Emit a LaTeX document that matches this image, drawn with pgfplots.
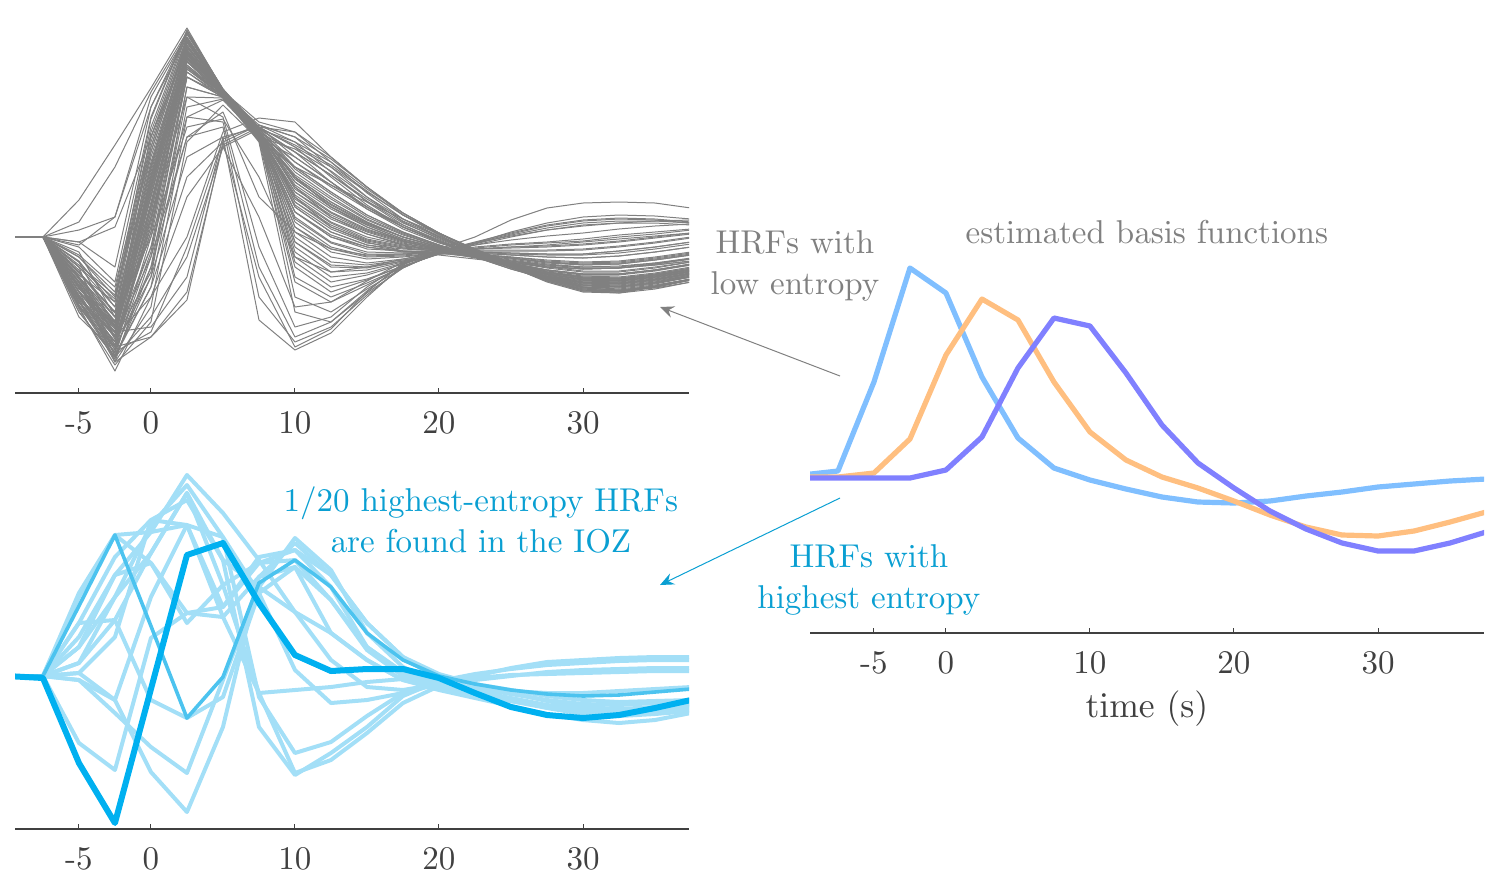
\documentclass[border=0pt]{standalone}
\usepackage{pgfplots}
\usepackage{pgfplotstable}
\pgfplotsset{compat=1.18}
\usetikzlibrary{arrows.meta}

\definecolor{hrfgray}{HTML}{808080}
\definecolor{ticktext}{HTML}{404040}
\definecolor{lightcyan}{HTML}{A3DFF7}
\definecolor{midcyan}{HTML}{4CC3EF}
\definecolor{thickcyan}{HTML}{00B0F0}
\definecolor{txtblue}{HTML}{0A9FD2}
\definecolor{basisA}{HTML}{80BFFF}
\definecolor{basisB}{HTML}{FFBF80}
\definecolor{basisC}{HTML}{8080FF}

% design size 10 scaled up, as in the reference
\font\hrf=cmr10 at 16.5pt
\font\hrfL=cmr10 at 17.8pt
\newcommand{\hrffont}{\fontsize{16.5}{20.5}\selectfont\hrf}

% one row per curve, transposed below (values in px above the baseline)
\pgfplotstableread{
id  c1  c2   c3   c4   c5   c6   c7   c8   c9   c10  c11  c12  c13  c14  c15  c16  c17  c18  c19  c20
x   -10 -7.5 -5   -2.5 0    2.5  5    7.5  10   12.5 15   17.5 20   22.5 25   27.5 30   32.5 35   37.5
g1  0   0    -20  -60  100  200  147  110  80   55   30   10   -5   -20  -32  -42  -50  -52  -48  -42
g2  0   0    -35  -75  80   190  145  108  70   45   22   5    -8   -20  -32  -42  -48  -50  -46  -40
g3  0   0    -50  -90  60   185  143  106  60   35   15   0    -10  -20  -30  -40  -46  -47  -43  -37
g4  0   0    -60  -100 40   178  142  104  50   25   8    -4   -12  -20  -29  -37  -42  -43  -39  -33
g5  0   0    -70  -110 20   170  140  102  40   15   0    -8   -13  -20  -27  -34  -38  -38  -34  -28
g6  0   0    -45  -85  70   195  146  105  30   5    -8   -12  -14  -18  -24  -30  -34  -34  -30  -25
g7  0   0    -55  -95  50   188  144  103  20   -5   -15  -16  -15  -18  -22  -27  -30  -30  -26  -21
g8  0   0    -65  -105 30   180  143  100  10   -15  -22  -20  -16  -17  -20  -24  -26  -25  -21  -16
g9  0   0    -30  -70  90   198  146  107  0    -25  -28  -23  -17  -16  -18  -20  -21  -19  -15  -10
g10 0   0    -40  -80  65   190  145  104  -10  -35  -33  -25  -17  -15  -16  -17  -17  -14  -10  -5
g11 0   0    -75  -120 0    160  140  100  -20  -45  -38  -27  -17  -13  -13  -13  -12  -9   -5   0
g12 0   0    -50  -95  45   182  143  98   -30  -55  -43  -29  -17  -12  -10  -9   -7   -4   0    4
g13 0   0    -60  -100 35   175  142  96   -45  -65  -48  -30  -16  -10  -7   -5   -2   2    5    8
g14 0   0    -20  -55  110  205  148  102  -60  -75  -52  -31  -15  -8   -3   1    4    8    11   13
g15 0   0    -45  -90  55   185  140  95   -75  -85  -56  -31  -14  -6   1    7    11   14   16   17
g16 0   0    -35  -75  75   192  142  97   70   52   35   18   3    -12  -26  -40  -50  -54  -51  -45
g17 0   0    -55  -95  48   182  145  110  90   70   45   22   4    -12  -28  -42  -53  -56  -52  -45
g18 0   0    -65  -110 25   172  140  108  95   75   48   24   4    -14  -30  -45  -55  -56  -50  -42
g19 0   0    -25  -65  95   196  144  112  100  78   50   24   4    -14  -30  -44  -54  -55  -50  -43
g20 0   0    -40  -85  60   186  146  115  105  80   50   22   2    -15  -30  -44  -53  -54  -49  -42
g21 0   0    -50  -90  55   183  143  104  55   30   12   -2   -11  -19  -28  -37  -43  -44  -40  -34
g22 0   0    -60  -98  42   179  142  103  45   22   6    -5   -12  -19  -27  -35  -40  -41  -37  -31
g23 0   0    -35  -80  72   192  145  106  65   40   18   3    -9   -19  -30  -40  -47  -48  -44  -38
g24 0   0    -48  -92  58   184  144  105  35   12   -3   -10  -13  -19  -26  -33  -37  -37  -33  -27
g25 0   0    -70  -115 15   168  141  101  25   0    -12  -14  -14  -18  -23  -28  -31  -31  -27  -22
g26 0   0    -10  -45  120  207  148  108  75   50   28   10   -4   -18  -31  -42  -49  -50  -46  -40
g27 0   0    -5   -30  130  205  147  109  85   62   38   16   0    -15  -30  -42  -51  -53  -49  -42
g28 0   0    -58  -105 30   176  141  103  15   -10  -19  -18  -15  -17  -21  -25  -28  -27  -23  -18
g29 0   0    -42  -88  62   187  144  102  -5   -30  -31  -24  -16  -15  -17  -18  -18  -16  -12  -7
g30 0   0    -68  -112 18   165  139  99   -15  -40  -36  -26  -17  -14  -14  -14  -13  -10  -6   -1
g31 0   0    37   92   149  209  147  105  40   10   -5   -14  -18  -22  -26  -30  -32  -31  -28  -24
g32 0   0    7    20   130  200  146  104  30   5    -8   -14  -16  -20  -24  -28  -30  -29  -26  -22
g33 0   0    -5   10   100  190  145  100  25   0    -10  -15  -16  -20  -25  -30  -32  -31  -28  -24
g34 0   0    -60  -110 -100 -63  95   112  100  70   40   15   -2   -15  -27  -38  -45  -46  -42  -36
g35 0   0    -50  -95  -90  -40  100  110  90   60   32   10   -5   -17  -28  -37  -43  -44  -40  -34
g36 0   0    -75  -120 -80  -20  90   108  85   55   28   8    -6   -16  -26  -35  -41  -42  -38  -33
g37 0   0    -40  -100 -60  0    105  119  115  80   50   24   4    -14  -30  -44  -54  -55  -50  -43
g38 0   0    -60  -110 -40  80   100  -83  -113 -96  -60  -28  -12  0    17   29   34   35   34   29
g39 0   0    -50  -100 -20  100  110  -60  -105 -90  -58  -30  -16  -6   5    14   20   22   21   18
g40 0   0    -65  -120 -50  60   95   -40  -110 -92  -55  -26  -14  -5   4    12   17   19   18   15
g41 0   0    -45  -90  20   140  120  -10  -90  -80  -50  -27  -15  -7   2    9    14   16   16   14
g42 0   0    -70  -134 -60  40   90   20   -70  -65  -44  -25  -15  -8   0    7    12   14   14   12
g43 0   0    -30  -120 -40  150  140  100  60   35   15   0    -10  -20  -30  -40  -46  -47  -43  -37
g44 0   0    -40  -125 -20  160  142  102  45   20   5    -6   -13  -20  -28  -36  -41  -42  -38  -32
g45 0   0    -55  -118 -50  130  138  101  70   45   22   5    -8   -19  -30  -41  -48  -49  -45  -39
g46 0   0    -25  -90  10   170  143  104  55   30   12   -2   -11  -19  -28  -37  -43  -44  -40  -34
g47 0   0    -15  -80  30   180  145  106  35   10   -4   -11  -14  -19  -26  -33  -37  -37  -33  -27
g48 0   0    -62  -125 -70  120  137  99   80   55   30   10   -5   -18  -30  -42  -50  -51  -47  -40
g49 0   0    -48  -108 -10  165  141  103  25   2    -10  -14  -15  -19  -24  -29  -32  -31  -27  -22
g50 0   0    -33  -100 5    172  143  105  85   62   36   14   -1   -15  -29  -42  -51  -53  -49  -42
g51 0   0    -58  -113 -30  150  140  102  10   -12  -20  -19  -16  -17  -20  -23  -25  -24  -20  -15
g52 0   0    -44  -96  25   176  144  104  62   38   17   2    -9   -19  -29  -39  -45  -46  -42  -36
g53 0   0    -52  -86  85   196  146  106  48   24   7    -4   -12  -19  -27  -35  -40  -41  -37  -31
g54 0   0    -66  -95  105  203  147  107  58   33   14   0    -10  -19  -29  -38  -44  -45  -41  -35
g55 0   0    -38  -65  118  206  148  108  68   43   20   4    -8   -18  -29  -39  -46  -47  -43  -37
g56 0   0    -28  -58  90   197  146  105  38   14   -2   -9   -13  -19  -26  -33  -37  -37  -33  -27
g57 0   0    -72  -128 -85  95   132  97   5    -20  -26  -22  -16  -16  -18  -20  -21  -19  -15  -10
g58 0   0    -46  -102 -35  140  139  101  -5   -28  -30  -24  -16  -15  -16  -17  -17  -14  -10  -5
g59 0   0    -36  -76  40   182  144  103  -25  -50  -42  -29  -17  -12  -11  -10  -8   -5   -1   3
g60 0   0    -62  -104 5    168  141  100  88   66   40   18   1    -14  -29  -43  -52  -54  -50  -43
g61 0   0    -24  -70  68   190  145  109  92   72   46   22   3    -13  -29  -43  -52  -54  -50  -43
g62 0   0    -54  -92  32   178  142  104  75   52   30   12   -3   -16  -29  -41  -48  -50  -46  -39
g63 0   0    -41  -84  48   184  143  105  52   28   10   -3   -11  -19  -28  -37  -42  -43  -39  -33
g64 0   0    -18  -50  100  199  146  106  58   32   13   0    -10  -20  -30  -39  -45  -46  -42  -36
g65 0   0    -60  -108 10   170  141  102  32   8    -6   -11  -14  -19  -25  -31  -35  -35  -31  -25
g66 0   0    -50  -88  52   186  144  104  42   18   3    -7   -12  -19  -27  -35  -39  -40  -36  -30
g67 0   0    -64  -116 -15  160  140  101  18   -6   -17  -17  -15  -17  -21  -26  -28  -27  -23  -18
g68 0   0    -30  -62  85   194  145  103  -40  -60  -46  -30  -16  -11  -8   -6   -4   0    3    7
g69 0   0    -8   20   140  203  147  105  60   30   10   -4   -12  -20  -28  -36  -41  -42  -38  -32
g70 0   0    15   70   145  205  146  104  50   20   3    -8   -14  -21  -27  -33  -37  -37  -33  -28
g71 0   0    -80  -115 -95  -10  98   112  95   65   35   12   -4   -16  -27  -37  -43  -44  -40  -35
g72 0   0    -45  -125 -100 -55  92   110  105  75   44   18   0    -14  -28  -40  -48  -49  -45  -38
g73 0   0    -55  -100 -10  120  115  -30  -100 -85  -54  -27  -14  -6   3    11   16   18   17   14
g74 0   0    -40  -80  0    110  118  60   -20  -35  -30  -22  -15  -12  -10  -8   -5   -2   1    4
g75 0   0    -68  -122 -30  100  125  40   5    -12  -18  -17  -15  -17  -21  -25  -27  -26  -22  -17
}\grayraw
\pgfplotstabletranspose[colnames from=id]\grayT\grayraw

\pgfplotstableread{
id    c1  c2   c3   c4   c5   c6   c7   c8   c9   c10  c11  c12  c13  c14  c15  c16  c17  c18  c19  c20
x     -10 -7.5 -5   -2.5 0    2.5  5    7.5  10   12.5 15   17.5 20   22.5 25   27.5 30   32.5 35   37.5
l1    0   0    83   141  113  63   59   99   109  76   29   4    -6   -12  -18  -24  -28  -29  -27  -24
l2    0   0    53   119  156  151  69   113  126  101  53   19   2    -8   -17  -25  -31  -33  -31  -28
l3    0   0    39   101  144  201  163  116  64   16   -11  -14  -8   -4   0    4    6    7    8    8
l4    0   0    29   79   151  191  139  83   6    -27  -24  -17  -8   -12  -15  -17  -17  -15  -13  -11
l5    0   0    13   56   123  183  91   -17  -97  -84  -57  -27  -10  0    8    14   16   18   19   19
l6    0   0    3    39   156  176  116  -51  -99  -77  -51  -20  -5   2    7    11   13   15   16   16
l7    0   0    -4   -24  79   151  139  -21  -77  -66  -40  -17  -5   -2   1    2    3    4    5    5
l8    0   0    -4   -37  -71  -97  -4   89   138  106  43   9    -8   -17  -24  -30  -34  -35  -33  -30
l9    0   0    3    -24  -96  -136 -51  99   133  101  53   19   -4   -15  -22  -29  -33  -34  -32  -29
l10   0   0    -67  -94  38   63   69   119  126  89   29   3    -11  -18  -25  -31  -35  -36  -34  -31
l11   0   0    29   101  113  53   91   113  116  76   26   0    -10  -17  -24  -31  -36  -38  -37  -34
l12   0   0    79   141  144  151  59   -17  -14  -11  -6   -3   -2   -8   -14  -20  -24  -26  -25  -24
l13   0   0    53   56   -24  -42  -21  83   109  43   16   -4   -12  -18  -25  -32  -38  -40  -38  -35
l14   0   0    13   79   123  183  116  89   64   43   16   -4   -14  -22  -30  -38  -44  -47  -44  -37
med   0   0    70   141  50   -42  -1   93   116  89   43   16   0    -8   -14  -18  -20  -19  -16  -13
thick 0   -2   -87  -147 -13  121  133  73   21   5    7    7    -2   -17  -31  -39  -42  -39  -32  -24
}\highraw
\pgfplotstabletranspose[colnames from=id]\highT\highraw

\pgfplotstableread{
x     b1   b2   b3
-10   3    1    0
-7.5  7    1    0
-5    96   5    0
-2.5  210  39   0
0     185  123  8
2.5   101  179  41
5     40   158  110
7.5   10   96   160
10    -2   46   152
12.5  -11  18   105
15    -19  1    53
17.5  -24  -10  15
20    -25  -23  -10
22.5  -23  -37  -33
25    -18  -49  -51
27.5  -14  -57  -65
30    -9   -58  -73
32.5  -6   -53  -73
35    -3   -44  -65
37.5  -1   -34  -54
}\basis

\pgfplotsset{
  hrfaxis/.style={
    scale only axis, width=337pt, anchor=south west,
    xmin=-9.44, xmax=37.36,
    axis x line=bottom, axis y line=none,
    axis line style={ticktext, line width=0.6pt, -},
    xtick={-5,0,10,20,30}, xticklabels={-5,0,10,20,30},
    tick align=inside, major tick length=2.5pt,
    tick style={ticktext, line width=0.5pt},
    xticklabel style={ticktext, font=\hrffont, yshift=-6pt},
  },
}

\begin{document}
\begin{tikzpicture}[font=\hrffont, line join=round]
\useasboundingbox (0,0) rectangle (750pt,-437.5pt);

% low entropy HRFs
\begin{axis}[hrfaxis, at={(7.5pt,-196.5pt)}, height=186.5pt, ymin=-156, ymax=217]
\pgfplotsinvokeforeach{1,...,75}{
  \addplot[hrfgray, line width=0.5pt] table[x=x, y=g#1]{\grayT};
}
\end{axis}

% highest entropy HRFs
\begin{axis}[hrfaxis, at={(7.5pt,-414.5pt)}, height=182pt, ymin=-153, ymax=211]
\pgfplotsinvokeforeach{1,...,14}{
  \addplot[lightcyan, line width=2pt] table[x=x, y=l#1]{\highT};
}
\addplot[midcyan, line width=1.8pt] table[x=x, y=med]{\highT};
\addplot[thickcyan, line width=3pt] table[x=x, y=thick]{\highT};
\end{axis}

% estimated basis functions
\begin{axis}[hrfaxis, at={(405pt,-316.5pt)}, height=189pt, ymin=-155, ymax=223]
\addplot[basisA, line width=2.6pt] table[x=x, y=b1]{\basis};
\addplot[basisB, line width=2.6pt] table[x=x, y=b2]{\basis};
\addplot[basisC, line width=2.6pt] table[x=x, y=b3]{\basis};
\end{axis}

\node[hrfgray, align=center] at (397.5pt,-133pt) {HRFs with\\low entropy};
\node[hrfgray] at (573.5pt,-116pt) {estimated basis functions};
\node[ticktext, font=\hrfL] at (573.5pt,-354.5pt) {time (s)};
\node[txtblue, align=center] at (240.5pt,-260pt) {1/20 highest-entropy HRFs\\are found in the IOZ};
\node[txtblue, align=center] at (434.5pt,-290pt) {HRFs with\\highest entropy};

\draw[hrfgray, line width=0.5pt, -{Stealth[length=7pt, width=6pt, inset=2.5pt]}] (420pt,-188pt) -- (330pt,-153.5pt);
\draw[txtblue, line width=0.5pt, -{Stealth[length=7pt, width=6pt, inset=2.5pt]}] (420pt,-249pt) -- (330pt,-292.5pt);
\end{tikzpicture}
\end{document}
